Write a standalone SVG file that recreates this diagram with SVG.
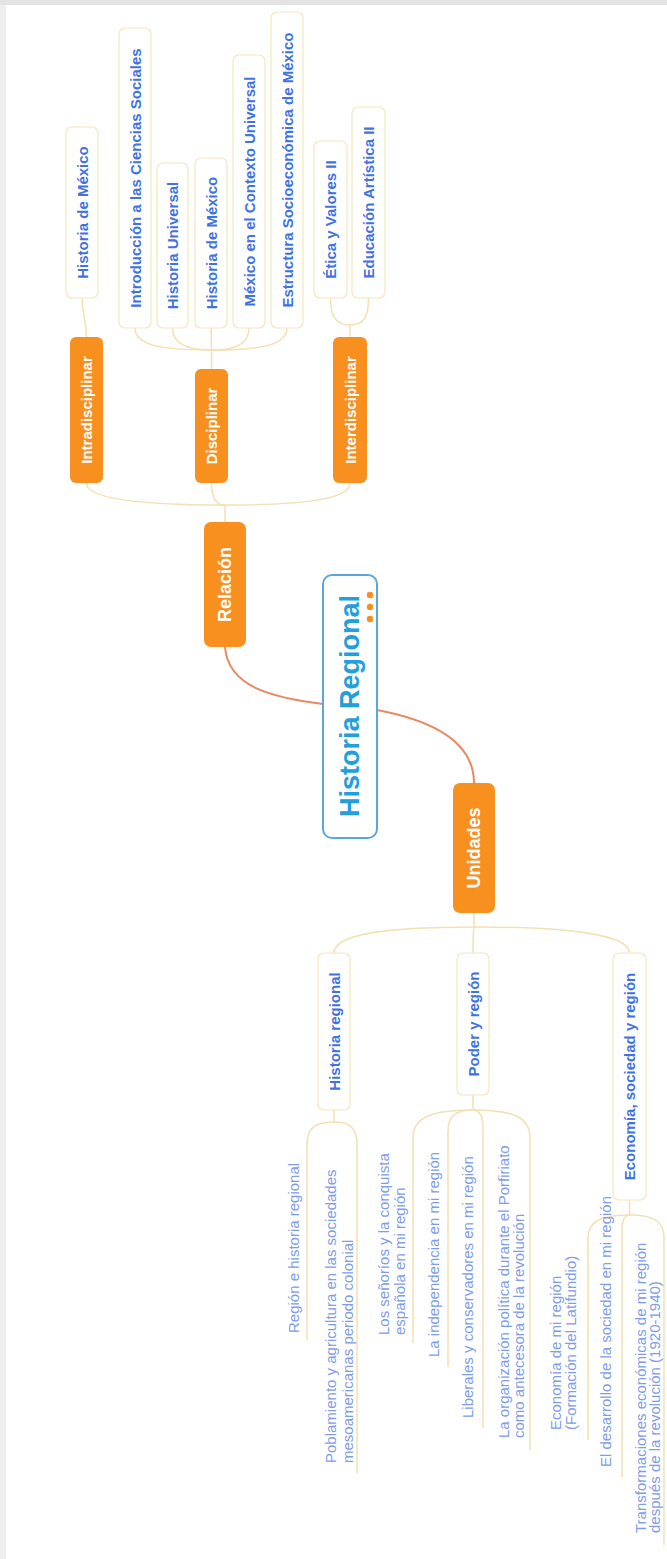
<svg xmlns="http://www.w3.org/2000/svg" width="667" height="1559" viewBox="0 0 667 1559">
<style>
text, tspan { font-family: "Liberation Sans", Arial, sans-serif; dominant-baseline: central; }
.box { fill: #ffffff; stroke: #f5e6bf; stroke-width: 1.2; }
.obox { fill: #f7901f; }
.tb { font-size: 15px; font-weight: bold; fill: #3f72e2; text-anchor: middle; }
.tw { font-size: 15px; font-weight: bold; fill: #ffffff; text-anchor: middle; }
.tw2 { font-size: 18px; font-weight: bold; fill: #ffffff; text-anchor: middle; }
.leaf { font-size: 15px; fill: #809de8; text-anchor: start; }
.conn { fill: none; stroke: #f4e0b2; stroke-width: 1.5; }
.main { fill: none; stroke: #e98a62; stroke-width: 2; }
</style>
<rect x="0" y="0" width="667" height="1559" fill="#ffffff"/>
<rect x="0" y="0" width="6" height="1559" fill="#efefef"/>
<rect x="0" y="0" width="667" height="5" fill="#e4e4e4"/>

<g id="connectors">
  <path class="main" d="M323 704 C275 698 228 688 225 647"/>
  <path class="main" d="M377 710 C430 720 474 740 474 783"/>
  <path class="conn" d="M225 522 L225 505 C150 505 86.5 500 86.5 483"/>
  <path class="conn" d="M225 505 C214 505 211.5 495 211.5 483"/>
  <path class="conn" d="M225 505 C300 505 350 500 350 483"/>
  <path class="conn" d="M86.5 337 C86.5 318 82 318 82 298"/>
  <path class="conn" d="M211.5 369 L211.5 350 C160 350 135 345 135 328"/>
  <path class="conn" d="M211.5 350 C185 350 172.5 343 172.5 328"/>
  <path class="conn" d="M211.5 350 L211 328"/>
  <path class="conn" d="M211.5 350 C238 350 249 343 249 328"/>
  <path class="conn" d="M211.5 350 C262 350 287 345 287 328"/>
  <path class="conn" d="M350 337 L350 325 C335 325 330.5 315 330.5 298"/>
  <path class="conn" d="M350 325 C365 325 368.5 315 368.5 298"/>
  <path class="conn" d="M474 913 L474 927 C380 927 334 935 334 953"/>
  <path class="conn" d="M474 927 C473 935 473 945 473 953"/>
  <path class="conn" d="M474 927 C570 927 629.5 935 629.5 953"/>
  <path class="conn" d="M334 1110 L334 1122 C315 1122 307 1128 307 1145 L307 1340"/>
  <path class="conn" d="M334 1122 C350 1122 357 1128 357 1145 L357 1473"/>
  <path class="conn" d="M473 1095 L473 1110 C430 1110 413 1118 413 1138 L413 1343"/>
  <path class="conn" d="M473 1110 C455 1110 448 1116 448 1132 L448 1367"/>
  <path class="conn" d="M473 1110 C480 1110 483 1116 483 1128 L483 1428"/>
  <path class="conn" d="M473 1110 C515 1110 530 1118 530 1138 L530 1450"/>
  <path class="conn" d="M629.5 1200 L629.5 1215 C600 1215 588 1222 588 1238 L588 1440"/>
  <path class="conn" d="M629.5 1215 C624 1215 622 1220 622 1230 L622 1477"/>
  <path class="conn" d="M629.5 1215 C655 1215 664 1222 664 1238 L664 1545"/>
</g>

<g id="central">
  <rect x="323" y="575" width="54" height="263" rx="9" fill="#ffffff" stroke="#5aa7e0" stroke-width="2"/>
  <text transform="translate(350 706) rotate(-90)" font-size="27" font-weight="bold" fill="#22a0dc" text-anchor="middle">Historia Regional</text>
  <circle cx="370" cy="595" r="3.2" fill="#f7901f"/>
  <circle cx="370" cy="607" r="3.2" fill="#f7901f"/>
  <circle cx="370" cy="619" r="3.2" fill="#f7901f"/>
</g>

<g id="relacion">
  <rect class="obox" x="204" y="522" width="42" height="125" rx="7"/>
  <text class="tw2" transform="translate(225 584.5) rotate(-90)">Relación</text>
</g>
<g id="unidades">
  <rect class="obox" x="453" y="783" width="42" height="130" rx="7"/>
  <text class="tw2" transform="translate(474 848) rotate(-90)">Unidades</text>
</g>

<g id="intradisciplinar">
  <rect class="obox" x="70" y="337" width="33" height="146" rx="6"/>
  <text class="tw" transform="translate(86.5 410) rotate(-90)">Intradisciplinar</text>
</g>
<g id="disciplinar">
  <rect class="obox" x="195" y="369" width="33" height="114" rx="6"/>
  <text class="tw" transform="translate(211.5 426) rotate(-90)">Disciplinar</text>
</g>
<g id="interdisciplinar">
  <rect class="obox" x="333" y="337" width="34" height="146" rx="6"/>
  <text class="tw" transform="translate(350 410) rotate(-90)">Interdisciplinar</text>
</g>

<g id="historia-mexico-1">
  <rect class="box" x="66" y="127" width="32" height="171" rx="6"/>
  <text class="tb" transform="translate(82 212.5) rotate(-90)">Historia de México</text>
</g>
<g id="intro-ciencias">
  <rect class="box" x="119" y="28" width="32" height="300" rx="6"/>
  <text class="tb" transform="translate(135 178) rotate(-90)">Introducción a las Ciencias Sociales</text>
</g>
<g id="historia-universal">
  <rect class="box" x="157" y="163" width="31" height="165" rx="6"/>
  <text class="tb" transform="translate(172.5 245.5) rotate(-90)">Historia Universal</text>
</g>
<g id="historia-mexico-2">
  <rect class="box" x="195" y="158" width="32" height="170" rx="6"/>
  <text class="tb" transform="translate(211 243) rotate(-90)">Historia de México</text>
</g>
<g id="mexico-contexto">
  <rect class="box" x="233" y="55" width="32" height="273" rx="6"/>
  <text class="tb" transform="translate(249 191.5) rotate(-90)">México en el Contexto Universal</text>
</g>
<g id="estructura">
  <rect class="box" x="271" y="12" width="32" height="316" rx="6"/>
  <text class="tb" transform="translate(287 170) rotate(-90)">Estructura Socioeconómica de México</text>
</g>
<g id="etica">
  <rect class="box" x="314" y="141" width="33" height="157" rx="6"/>
  <text class="tb" transform="translate(330.5 219.5) rotate(-90)">Ética y Valores II</text>
</g>
<g id="educacion">
  <rect class="box" x="352" y="107" width="33" height="191" rx="6"/>
  <text class="tb" transform="translate(368.5 202.5) rotate(-90)">Educación Artística II</text>
</g>

<g id="historia-regional">
  <rect class="box" x="318" y="953" width="32" height="157" rx="6"/>
  <text class="tb" transform="translate(334 1031.5) rotate(-90)">Historia regional</text>
</g>
<g id="poder-region">
  <rect class="box" x="457" y="953" width="32" height="142" rx="6"/>
  <text class="tb" transform="translate(473 1024) rotate(-90)">Poder y región</text>
</g>
<g id="economia">
  <rect class="box" x="613" y="953" width="33" height="247" rx="6"/>
  <text class="tb" transform="translate(629.5 1076.5) rotate(-90)">Economía, sociedad y región</text>
</g>

<g id="leaf-l1"><text class="leaf" transform="translate(293 1333) rotate(-90)">Región e historia regional</text></g>
<g id="leaf-l2"><text class="leaf" transform="translate(330 1463) rotate(-90)"><tspan x="0" y="0">Poblamiento y agricultura en las sociedades</tspan><tspan x="0" y="17">mesoamericanas periodo colonial</tspan></text></g>
<g id="leaf-p1"><text class="leaf" transform="translate(383 1335) rotate(-90)"><tspan x="0" y="0">Los señoríos y la conquista</tspan><tspan x="0" y="16">española en mi región</tspan></text></g>
<g id="leaf-p2"><text class="leaf" transform="translate(433 1357) rotate(-90)">La independencia en mi región</text></g>
<g id="leaf-p3"><text class="leaf" transform="translate(467 1418) rotate(-90)">Liberales y conservadores en mi región</text></g>
<g id="leaf-p4"><text class="leaf" transform="translate(503 1438) rotate(-90)"><tspan x="0" y="0">La organización política durante el Porfiriato</tspan><tspan x="0" y="15">como antecesora de la revolución</tspan></text></g>
<g id="leaf-e1"><text class="leaf" transform="translate(555 1430) rotate(-90)"><tspan x="0" y="0">Economía de mi región</tspan><tspan x="0" y="15">(Formación del Latifundio)</tspan></text></g>
<g id="leaf-e2"><text class="leaf" transform="translate(605 1467) rotate(-90)">El desarrollo de la sociedad en mi región</text></g>
<g id="leaf-e3"><text class="leaf" transform="translate(640 1533) rotate(-90)" font-size="14.3"><tspan x="0" y="0">Transformaciones económicas de mi región</tspan><tspan x="0" y="14">después de la revolución (1920-1940)</tspan></text></g>
</svg>
